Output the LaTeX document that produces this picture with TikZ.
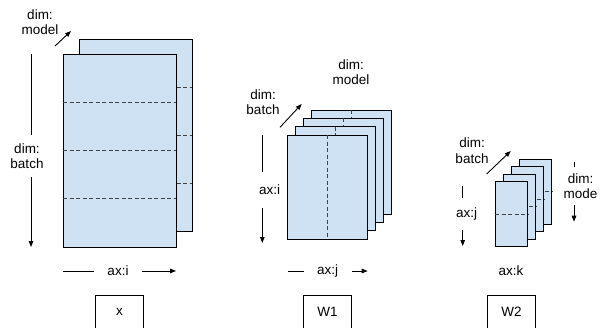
\documentclass[tikz,border=0pt]{standalone}
\usepackage{fontspec}
\setmainfont{Liberation Sans}
\usetikzlibrary{arrows.meta,calc}
\definecolor{sheetfill}{HTML}{CFE2F3}
\definecolor{splitgray}{HTML}{434343}

\begin{document}
\begin{tikzpicture}[x=1pt,y=-1pt,
  font=\fontsize{13.5}{15.5}\selectfont,
  sheetbox/.style 2 args={draw=black, line width=0.9pt, fill=sheetfill,
    anchor=north west, inner sep=0pt, outer sep=0pt,
    minimum width=#1, minimum height=#2},
  split/.style={draw=splitgray, line width=0.9pt, dash pattern=on 4pt off 2.5pt},
  axis/.style={line width=0.9pt, -{Triangle[length=6pt,width=4.5pt]}},
  axlabel/.style={fill=white, align=center, inner sep=0pt},
  tag/.style={draw=black, line width=0.9pt, minimum width=48pt, minimum height=34pt,
    inner sep=0pt}
]
\clip (0,0) rectangle (602,327);

% ---------------- x ----------------
\coordinate (xm0) at (55,46);   \coordinate (xm1) at (71,31);
\coordinate (xb0) at (31,54);   \coordinate (xb1) at (31,247);
\coordinate (xi0) at (63,271);  \coordinate (xi1) at (176,271);
\draw[axis] (xm0) -- (xm1);
\draw[axis] (xb0) -- (xb1);
\draw[axis] (xi0) -- (xi1);
\node[axlabel] (xmodel) at (40,22) {dim:\\model};
\node[axlabel, inner xsep=2pt, inner ysep=8pt] (xbatch) at (27,156) {dim:\\batch};
\node[axlabel, inner xsep=13.5pt, inner ysep=2pt] (xaxi) at (118,271) {ax:i};

\node[sheetbox={113pt}{192pt}] (xback) at (79,39) {};
\foreach \f in {0.25,0.5,0.75}
  \draw[split] ($(xback.north west)!\f!(xback.south west)$) -- ($(xback.north east)!\f!(xback.south east)$);
\node[sheetbox={113pt}{193pt}] (xfront) at (63,54) {};
\foreach \f in {0.25,0.5,0.75}
  \draw[split] ($(xfront.north west)!\f!(xfront.south west)$) -- ($(xfront.north east)!\f!(xfront.south east)$);

\node[tag] (xtag) at (119.5,312) {x};

% ---------------- W1 ----------------
\coordinate (wa0) at (280,127.3);   \coordinate (wa1) at (301.7,104);
\coordinate (wi0) at (262.3,135);   \coordinate (wi1) at (262.3,243);
\coordinate (wj0) at (287.7,271);   \coordinate (wj1) at (367.7,271);
\draw[axis] (wa0) -- (wa1);
\draw[axis] (wi0) -- (wi1);
\draw[axis] (wj0) -- (wj1);
\node[axlabel] (w1batch) at (263,102) {dim:\\batch};
\node[axlabel] (w1model) at (351,72) {dim:\\model};
\node[axlabel, inner xsep=2pt, inner ysep=13pt] (w1axi) at (269.5,190) {ax:i};
\node[axlabel, inner xsep=13.5pt, inner ysep=2pt] (w1axj) at (327.7,271) {ax:j};

\foreach \k in {3,2,1,0} {
  \node[sheetbox={80pt}{104pt}] (wone\k) at ({287.7+8*\k},{135-8.33*\k}) {};
  \draw[split] (wone\k.north) -- (wone\k.south);
}

\node[tag] (w1tag) at (327.5,312) {W1};

% ---------------- W2 ----------------
\coordinate (va0) at (486.7,174);   \coordinate (va1) at (510.7,151);
\coordinate (vj0) at (462.7,186);   \coordinate (vj1) at (462.7,246);
\coordinate (vm0) at (574,161.7);   \coordinate (vm1) at (574,221.7);
\draw[axis] (va0) -- (va1);
\draw[axis] (vj0) -- (vj1);
\draw[axis] (vm0) -- (vm1);
\node[axlabel] (w2batch) at (472,150.5) {dim:\\batch};
\node[axlabel, inner xsep=2pt, inner ysep=10pt] (w2axj) at (466.7,214) {ax:j};
\node[axlabel, inner xsep=2pt, inner ysep=6.5pt] (w2mode) at (580.5,186) {dim:\\mode};
\node[axlabel, inner xsep=2pt, inner ysep=2pt] (w2axk) at (511,271) {ax:k};

\foreach \k in {3,2,1,0} {
  \node[sheetbox={32.7pt}{65pt}] (wtwo\k) at ({495+8*\k},{181.7-7.55*\k}) {};
  \draw[split] (wtwo\k.west) -- (wtwo\k.east);
}

\node[tag] (w2tag) at (511.5,312) {W2};
\end{tikzpicture}
\end{document}
